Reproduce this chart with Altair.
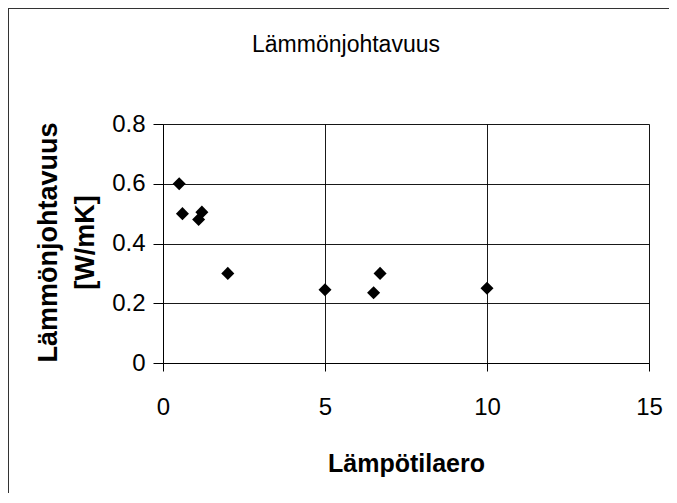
import altair as alt
import pandas as pd

# data
lampotilaero = [0.5, 0.6, 1.2, 1.1, 2.0, 5.0, 6.7, 6.5, 10.0]
lammonjohtavuus = [0.60, 0.50, 0.505, 0.48, 0.30, 0.245, 0.30, 0.235, 0.25]
x_ticks = [0, 5, 10, 15]
y_ticks = [0, 0.2, 0.4, 0.6, 0.8]
chart_title = ["Lämmönjohtavuus"]

df = pd.DataFrame({"x": lampotilaero, "y": lammonjohtavuus})

FONT = "Liberation Sans"
W, H = 486, 239
PL, PT, PR, PB = 155, 116, 20, 130

points = alt.Chart(df).mark_point(
    shape="diamond", filled=True, color="black", size=170, opacity=1
).encode(
    x=alt.X("x:Q",
            scale=alt.Scale(domain=[0, 15], nice=False, zero=False),
            axis=alt.Axis(values=x_ticks, title="Lämpötilaero",
                          titleFont=FONT, titleFontSize=25, titleFontWeight="bold",
                          titleColor="black", titleX=W / 2, titleY=108,
                          titleAlign="center", titleBaseline="alphabetic",
                          labelFont=FONT, labelFontSize=24, labelColor="black",
                          labelPadding=24, tickSize=8, tickColor="black",
                          domainColor="black", gridColor="black", gridOpacity=0.9,
                          labelFlush=False)),
    y=alt.Y("y:Q",
            scale=alt.Scale(domain=[0, 0.8], nice=False),
            axis=alt.Axis(values=y_ticks,
                          title=["Lämmönjohtavuus", "[W/mK]"],
                          titleFont=FONT, titleFontSize=27, titleFontWeight="bold",
                          titleColor="black", titleAngle=270, titleX=-115, titleY=118,
                          titleAlign="center", titleBaseline="middle",
                          titleLineHeight=37,
                          labelExpr="datum.value == 0 ? '0' : format(datum.value, '.1f')",
                          labelFont=FONT, labelFontSize=24, labelColor="black",
                          labelPadding=8, tickSize=10, tickColor="black",
                          domainColor="black", gridColor="black", gridOpacity=0.9,
                          labelFlush=False)),
)

title_df = pd.DataFrame({"t": chart_title})
title_text = alt.Chart(title_df).mark_text(
    font=FONT, fontSize=23, color="black", align="center", baseline="alphabetic"
).encode(text="t:N", x=alt.value(183), y=alt.value(-72))

frame_df = pd.DataFrame({"a": [0]})
left_border = alt.Chart(frame_df).mark_rule(color="#333", strokeWidth=2).encode(
    x=alt.value(-155), y=alt.value(-116), y2=alt.value(H + PB)
)
top_border = alt.Chart(frame_df).mark_rule(color="#333", strokeWidth=2).encode(
    y=alt.value(-116), x=alt.value(-156), x2=alt.value(W + PR)
)

chart = alt.layer(points, title_text, left_border, top_border).properties(
    width=W, height=H,
    autosize=alt.AutoSizeParams(type="none"),
    padding={"left": PL, "top": PT, "right": PR, "bottom": PB},
).configure_view(stroke="black", strokeWidth=1).configure(background="white")

chart.save("out.html", embed_options={"renderer": "svg", "actions": False})
